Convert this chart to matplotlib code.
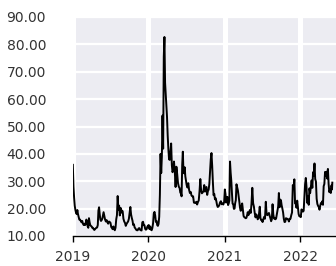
import matplotlib
matplotlib.use("Agg")
import matplotlib.pyplot as plt
import pandas as pd

# Monthly lists of (approximate) index values, Jan 2019 .. Jun 2022
month_start = "2019-01-01"
data_end = "2022-06-04"
values_by_month = [
    # 2019
    [36, 28, 24, 21, 19.5, 18.5, 18, 19.5, 18, 17],
    [16, 16, 15.5, 15, 15.5, 14.5, 14, 14.5],
    [14, 14.5, 16, 15, 13.5, 13, 16.5, 15, 14, 13.7],
    [13.5, 13, 13, 12.5, 12.2, 12.5, 12.8, 13, 13.1],
    [14, 19.3, 20.5, 18, 16, 15.5, 15.8, 16.3, 17.5, 18.7],
    [17.5, 16, 15.3, 15.8, 15, 14.5, 15.3, 15.1],
    [14.8, 13.3, 12.9, 12.5, 13.5, 12.6, 12.1, 13, 16.1],
    [17.6, 24.6, 19.5, 21.1, 17.5, 20.3, 18.5, 19.3, 19.0],
    [16.3, 15.3, 14.8, 13.7, 14.4, 14.9, 15.3, 16.3],
    [18.6, 20.6, 17.9, 16.6, 15.6, 14, 14.3, 13.1, 12.8],
    [12.3, 12.1, 12.1, 12.7, 12.9, 12.3, 12.1, 12],
    [15, 15.2, 14, 13.9, 12.6, 12.3, 12.5, 13.4, 13.8],
    # 2020
    [14, 12.5, 13.5, 12.3, 12.1, 12.9, 14.6, 18.2, 18.8],
    [17.5, 15.2, 15.5, 14, 13.7, 14.4, 17, 25, 40],
    [33, 39, 54, 41.9, 75.5, 82.7, 66, 61.6, 57, 53.5],
    [46.8, 41.7, 38, 37.8, 41, 43.8, 35.9, 33.3, 34.2],
    [37.2, 33.6, 27.9, 35.3, 32.6, 29.3, 28, 27.5],
    [25.8, 25.7, 24.5, 36, 40.8, 33.7, 32.9, 35.1, 31.8, 30.4],
    [28.6, 27.7, 29.3, 26.9, 25.7, 26.1, 24.8, 24.5],
    [24.5, 22.2, 22.1, 22.1, 22.5, 21.5, 22.4, 23.0],
    [26.4, 30.8, 26.6, 25.6, 25.9, 26.4, 28.6, 26.2],
    [27.6, 27.9, 25, 26.4, 26.9, 29, 33.4, 38, 40.3],
    [35.6, 29.6, 24.9, 25.4, 23.4, 23.8, 22.7, 21.3, 20.6],
    [20.8, 21.3, 22.3, 22.7, 21.6, 21.9, 21.5, 22.4],
    # 2021
    [27.0, 25.3, 22.2, 23.3, 24.3, 21.3, 21.9, 23, 37.2, 33.1],
    [30.2, 25.6, 21.8, 21.6, 19.9, 20.0, 22, 23.1, 28.9],
    [27.9, 26.7, 24.7, 22.6, 20.3, 19.2, 20.9, 21.9, 19.6],
    [17.3, 16.9, 16.7, 16.5, 16.6, 17.5, 18.7, 17.6, 18.6],
    [19.5, 18.4, 21.8, 27.6, 22, 20.7, 18.4, 16.8],
    [17.9, 17.1, 16.1, 16.4, 18.2, 20.7, 16.6, 15.8, 15.8],
    [15.1, 16.2, 17, 16.3, 22.5, 17.9, 17.6, 18.2],
    [18.4, 17.3, 16.5, 15.4, 16.1, 21.6, 17.9, 16.4, 16.5],
    [16.1, 16.4, 17.9, 19.4, 20.8, 25.7, 20.5, 23.3, 23.0],
    [21.2, 20, 18.6, 16.3, 15.1, 15.2, 16.5, 16.3, 16.3],
    [16, 15.3, 16.3, 16.3, 17.6, 18.6, 28.6, 27.2],
    [30.7, 21.9, 21.9, 20.3, 22.9, 20.6, 18, 17.2, 17.2],
    # 2022
    [16.9, 19.7, 19.2, 18.9, 19.2, 23.9, 28.9, 31.2, 27.7],
    [22.1, 24.4, 21.4, 27.4, 25.7, 28, 30.3, 27.6],
    [33.3, 32, 36.5, 30.8, 29.9, 23.6, 21.7, 21, 20.6],
    [19.6, 21, 22, 21.8, 22.7, 21.4, 28.2, 29, 33.4],
    [32, 33.5, 31, 34.5, 29, 26, 27, 25.7, 28.5],
    [27, 29.5],
]
year_ticks = ["2019", "2020", "2021", "2022"]
y_ticks = [10, 20, 30, 40, 50, 60, 70, 80, 90]

months = pd.date_range(month_start, periods=len(values_by_month), freq="MS")
bounds = list(months) + [pd.Timestamp(data_end)]
dates, vals = [], []
for i, mv in enumerate(values_by_month):
    span = bounds[i + 1] - bounds[i]
    n = len(mv)
    for j, v in enumerate(mv):
        dates.append(bounds[i] + span * ((j + 0.5) / n))
        vals.append(v)

fig = plt.figure(figsize=(3.36, 2.66), dpi=100)
ax = fig.add_axes([72.5 / 336, 1 - 236 / 266, 1 - 72.5 / 336, (236 - 17) / 266])
ax.set_facecolor("#ECECF2")
ax.plot(dates, vals, color="black", lw=1.4, solid_joinstyle="round")

ax.set_ylim(10, 90)
ax.set_xlim(pd.Timestamp("2019-01-01"), pd.Timestamp("2022-06-21"))
ax.set_yticks(y_ticks)
ax.set_yticklabels([f"{t:.2f}" for t in y_ticks])
ax.set_xticks([pd.Timestamp(f"{y}-01-01") for y in year_ticks])
ax.set_xticklabels(year_ticks)

ax.set_axisbelow(True)
ax.yaxis.grid(True, color="white", lw=1.6)
ax.xaxis.grid(True, color="white", lw=3.6)
for s in ["left", "right", "top"]:
    ax.spines[s].set_visible(False)
ax.spines["bottom"].set_color("black")
ax.spines["bottom"].set_linewidth(1.0)
ax.spines["bottom"].set_zorder(3)
ax.tick_params(axis="y", length=0, pad=19, labelsize=10, labelcolor="#333333")
ax.tick_params(axis="x", length=4, width=1, pad=6, labelsize=10, labelcolor="#333333", color="black")

fig.savefig("out.png", dpi=100)
